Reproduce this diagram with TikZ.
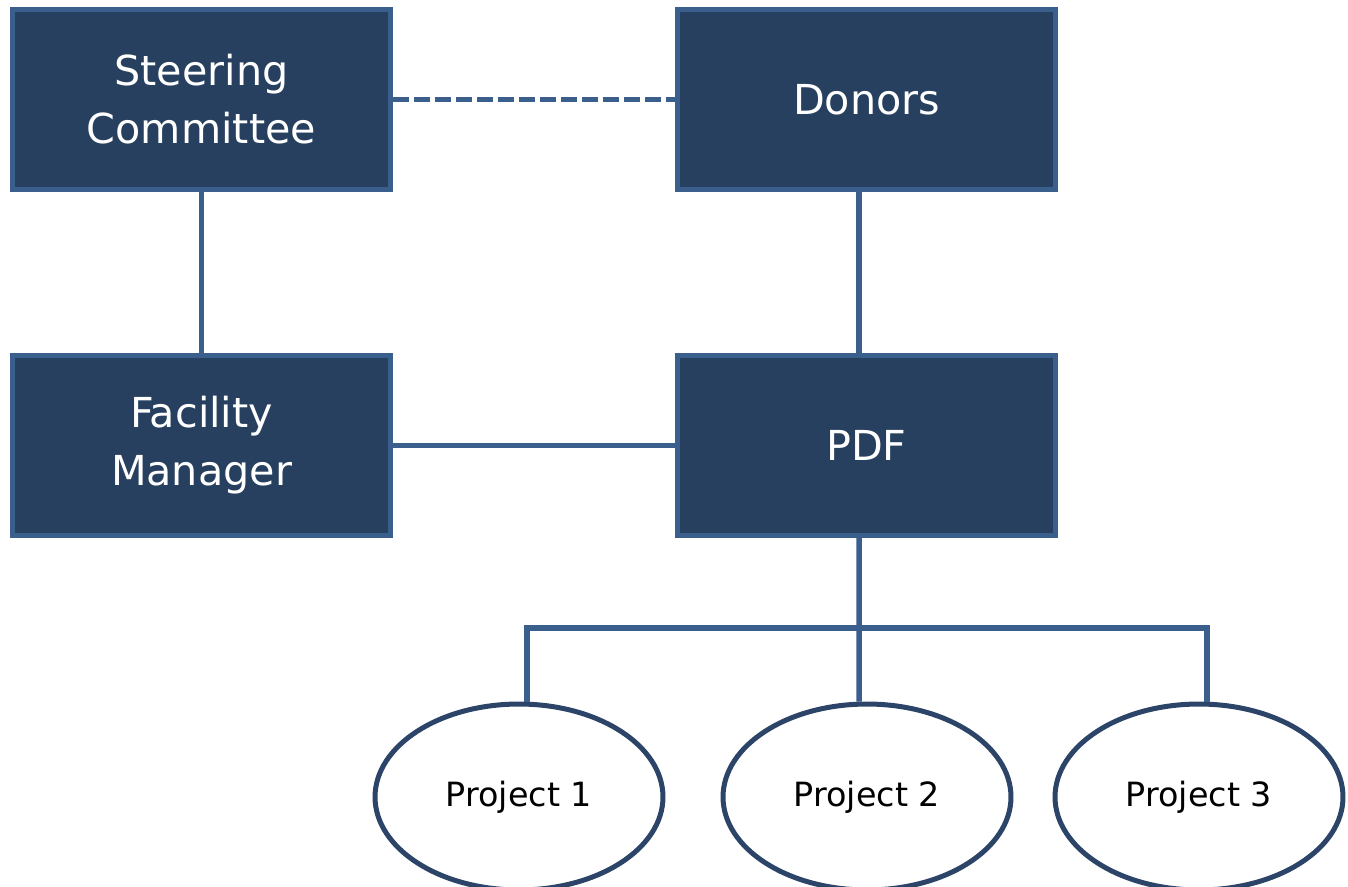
\documentclass[tikz,border=0pt]{standalone}
\usepackage{fontspec}
\setmainfont{DejaVu Sans}
\usepackage{xcolor}
\usepackage{tikz}
\usetikzlibrary{shapes.geometric}
\definecolor{boxfill}{HTML}{27405F}
\definecolor{boxline}{HTML}{3A5F8C}
\definecolor{ovalline}{HTML}{2B4468}

\begin{document}
\begin{tikzpicture}[x=0.02cm, y=-0.02cm,
    unit/.style={draw=boxline, fill=boxfill, line width=0.11cm, minimum width=7.56cm,
        minimum height=3.6cm, align=center, text=white, font=\fontsize{23.5}{33}\selectfont},
    project/.style={ellipse, draw=ovalline, fill=white, line width=0.1cm,
        minimum width=5.76cm, minimum height=3.72cm, font=\fontsize{19}{22}\selectfont},
    link/.style={draw=boxline, line width=0.11cm}]
    \useasboundingbox (0,0) rectangle (1348,886);

    % Boxes of the top two rows
    \node[unit] (sc) at (201.5,99.5) {Steering\\Committee};
    \node[unit] (don) at (866.5,99.5) {Donors};
    \node[unit] (fm) at (201.5,445.5) {Facility\\Manager};
    \node[unit] (pdf) at (866.5,445.5) {PDF};

    % Projects
    \node[project] (p1) at (519,797) {Project 1};
    \node[project] (p2) at (867,797) {Project 2};
    \node[project] (p3) at (1199,797) {Project 3};

    % Links between the boxes
    \draw[link, dash pattern=on 0.32cm off 0.1cm] (sc.east) -- (don.west);
    \draw[link] (sc.south) -- (fm.north);
    \draw[link] ([xshift=-0.15cm]don.south) -- ([xshift=-0.15cm]pdf.north);
    \draw[link] (fm.east) -- (pdf.west);

    % Bus down to the projects
    \coordinate (b1) at (527,628);
    \coordinate (b2) at (859,628);
    \coordinate (b3) at (1207,628);
    \draw[link] ([xshift=-0.15cm]pdf.south) -- (b2) -- (b2 |- p2.north);
    \draw[link] (b1 |- p1.north) -- (b1) -- (b3) -- (b3 |- p3.north);
\end{tikzpicture}
\end{document}
